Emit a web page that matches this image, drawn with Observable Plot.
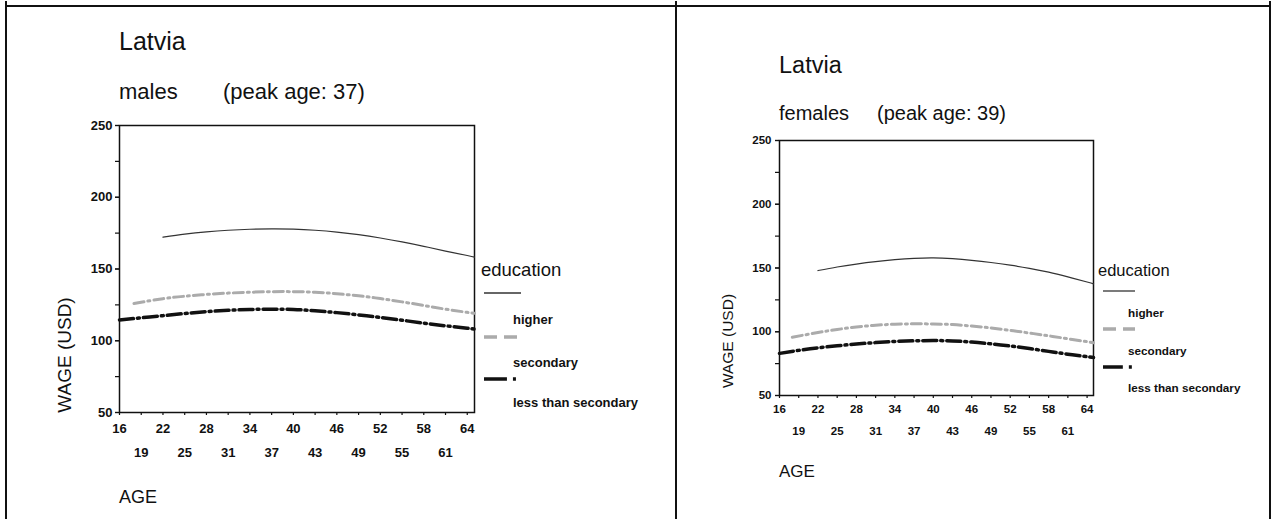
<!DOCTYPE html>
<html>
<head>
<meta charset="utf-8">
<script src="https://cdn.jsdelivr.net/npm/d3@7"></script>
<script src="https://cdn.jsdelivr.net/npm/@observablehq/plot@0.6"></script>
<style>
  html, body { margin: 0; padding: 0; background: #fff; }
  #root { position: relative; width: 1277px; height: 519px; overflow: hidden; background: #fff;
          font-family: "Liberation Sans", Arial, sans-serif; color: #111; }
  .abs { position: absolute; white-space: nowrap; }
  .line { position: absolute; background: #111; }
</style>
</head>
<body>
<div id="root"></div>
<script>
// ---------- data ----------
const educationLevels = ["higher", "secondary", "less than secondary"];

const maleHigherAge  = [22,25,28,31,34,37,40,43,46,49,52,55,58,61,64,65];
const maleHigherWage = [172.2,174.3,175.9,177.0,177.7,178.0,177.8,177.0,175.7,173.9,171.6,168.9,165.8,162.5,159.4,158.3];
const maleSecondaryAge  = [18,22,25,28,31,34,37,40,43,46,49,52,55,58,61,64,65];
const maleSecondaryWage = [126,129.3,131,132.3,133.2,133.8,134.2,134.2,133.8,132.8,131.3,129.4,127.1,124.6,122,119.8,119.2];
const maleLessAge  = [16,19,22,25,28,31,34,37,40,43,46,49,52,55,58,61,64,65];
const maleLessWage = [114.5,116,117.5,119,120.3,121.2,121.8,122,121.8,120.9,119.6,118,116.2,114.3,112.3,110.4,108.7,108.1];

const femaleHigherAge  = [22,25,28,31,34,37,40,43,46,49,52,55,58,61,64,65];
const femaleHigherWage = [148,150.8,153.1,155,156.5,157.6,158,157.3,156,154.3,152.2,149.7,146.7,143,139,137.5];
const femaleSecondaryAge  = [18,22,25,28,31,34,37,40,43,46,49,52,55,58,61,64,65];
const femaleSecondaryWage = [95.7,99.4,101.8,103.7,105.1,105.9,106.2,106.1,105.6,104.5,103,101.1,99,96.8,94.5,92.2,91.4];
const femaleLessAge  = [16,19,22,25,28,31,34,37,40,43,46,49,52,55,58,61,64,65];
const femaleLessWage = [83,85.4,87.4,89,90.4,91.5,92.4,92.9,93.1,92.8,91.9,90.5,88.8,86.8,84.6,82.4,80.4,79.8];

const xTicks = [16,19,22,25,28,31,34,37,40,43,46,49,52,55,58,61,64];
const xLabelsRow1 = [16,22,28,34,40,46,52,58,64];
const xLabelsRow2 = [19,25,31,37,43,49,55,61];
const yTicks = [50,75,100,125,150,175,200,225,250];
const yLabels = [50,100,150,200,250];

// ---------- helpers ----------
const rows = (ages, wages, edu) => ages.map((a, i) => ({age: a, wage: wages[i], education: edu}));
const root = document.getElementById("root");

function text(str, x, baseline, size, extra = {}) {
  const d = document.createElement("div");
  d.className = "abs";
  d.textContent = str;
  d.style.left = x + "px";
  d.style.top = (baseline - 0.8465 * size) + "px";
  d.style.fontSize = size + "px";
  d.style.lineHeight = size + "px";
  Object.assign(d.style, extra);
  root.appendChild(d);
}
function vtext(str, cx, cy, size) {
  const d = document.createElement("div");
  d.className = "abs";
  d.textContent = str;
  d.style.left = cx + "px";
  d.style.top = cy + "px";
  d.style.fontSize = size + "px";
  d.style.lineHeight = size + "px";
  d.style.transform = "translate(-50%,-50%) rotate(-90deg)";
  root.appendChild(d);
}
function rule(x, y, w, h) {
  const d = document.createElement("div");
  d.className = "line";
  Object.assign(d.style, {left: x + "px", top: y + "px", width: w + "px", height: h + "px"});
  root.appendChild(d);
}
const styles = {
  "higher": {stroke: "#333", strokeWidth: 1.2},
  "secondary": {stroke: "#ababab", strokeWidth: 3, strokeDasharray: "10,4,2,4"},
  "less than secondary": {stroke: "#111", strokeWidth: 3.5, strokeDasharray: "14,4,2,4"}
};
function legend(x, sampleX, textX, size, tsize, positions) {
  text("education", x, positions.title, size);
  educationLevels.forEach((e, i) => {
    const s = styles[e];
    const svg = document.createElementNS("http://www.w3.org/2000/svg", "svg");
    svg.setAttribute("width", 40); svg.setAttribute("height", 8);
    svg.style.position = "absolute";
    svg.style.left = sampleX + "px";
    svg.style.top = (positions.samples[i] - 4) + "px";
    const l = document.createElementNS("http://www.w3.org/2000/svg", "line");
    l.setAttribute("x1", 0); l.setAttribute("x2", positions.sampleW); l.setAttribute("y1", 4); l.setAttribute("y2", 4);
    l.setAttribute("stroke", s.stroke);
    l.setAttribute("stroke-width", e === "higher" ? 1.3 : 3.5);
    if (e === "secondary") l.setAttribute("stroke-dasharray", "13,7");
    if (e === "less than secondary") l.setAttribute("stroke-dasharray", positions.sampleW * 0.62 + ",6,3,20");
    svg.appendChild(l);
    root.appendChild(svg);
    text(e, textX, positions.labels[i], tsize, {fontWeight: "bold"});
  });
}

function panel(data, o) {
  const chart = Plot.plot({
    width: o.width, height: o.height,
    marginLeft: o.ml, marginRight: o.mr, marginTop: o.mt, marginBottom: o.mb,
    style: {fontFamily: "'Liberation Sans', Arial, sans-serif", fontSize: o.fs + "px",
            fontWeight: "bold", color: "#111", background: "transparent", overflow: "visible"},
    x: {domain: [16, 65]},
    y: {domain: [50, 250]},
    marks: [
      Plot.axisY(yTicks, {tickSize: 4, tickFormat: () => "", label: null, strokeWidth: 1.2}),
      Plot.axisY(yLabels, {tickSize: 4, tickPadding: o.yPad, label: null, strokeWidth: 1.2}),
      Plot.axisX(xTicks, {tickSize: 3, tickFormat: () => "", label: null, strokeWidth: 1.2}),
      Plot.axisX(xLabelsRow1, {tickSize: 0, tickPadding: o.pad1, label: null}),
      Plot.axisX(xLabelsRow2, {tickSize: 0, tickPadding: o.pad2, label: null}),
      Plot.frame({stroke: "#111", strokeWidth: 1.5}),
      ...educationLevels.map(e => Plot.line(data.filter(d => d.education === e),
        {x: "age", y: "wage", curve: "natural", ...styles[e]}))
    ]
  });
  chart.style.position = "absolute";
  chart.style.left = o.left + "px";
  chart.style.top = o.top + "px";
  root.appendChild(chart);
}

const maleData = [
  ...rows(maleHigherAge, maleHigherWage, "higher"),
  ...rows(maleSecondaryAge, maleSecondaryWage, "secondary"),
  ...rows(maleLessAge, maleLessWage, "less than secondary")
];
const femaleData = [
  ...rows(femaleHigherAge, femaleHigherWage, "higher"),
  ...rows(femaleSecondaryAge, femaleSecondaryWage, "secondary"),
  ...rows(femaleLessAge, femaleLessWage, "less than secondary")
];

// borders
rule(5, 5, 1266, 1.6);
rule(5, 1, 1.6, 518);
rule(675, 1, 1.6, 518);
rule(1269, 1, 1.6, 518);

// left panel (males)
panel(maleData, {left: 40, top: 110, width: 440, height: 360, ml: 79, mr: 6, mt: 15, mb: 58,
                 fs: 13, yPad: 3, pad1: 10.8, pad2: 34.8});
text("Latvia", 119, 50, 25);
text("males", 119, 100, 22);
text("(peak age: 37)", 223, 100, 22);
vtext("WAGE (USD)", 64, 355, 19);
text("AGE", 119, 503, 18);
legend(481, 484, 513, 18.5, 13, {title: 277, samples: [293, 337, 379], labels: [324, 367, 407], sampleW: 37});

// right panel (females)
panel(femaleData, {left: 700, top: 130, width: 400, height: 320, ml: 79, mr: 7, mt: 10, mb: 55,
                   fs: 11.5, yPad: 4, pad1: 9.8, pad2: 31.8});
text("Latvia", 779, 74, 23.5);
text("females", 779, 120, 20);
text("(peak age: 39)", 877, 120, 20);
vtext("WAGE (USD)", 728, 341, 15.5);
text("AGE", 779, 477, 17);
legend(1098, 1103, 1128, 16.5, 11.7, {title: 276, samples: [291, 329, 367], labels: [317, 355, 392], sampleW: 32});
</script>
</body>
</html>
